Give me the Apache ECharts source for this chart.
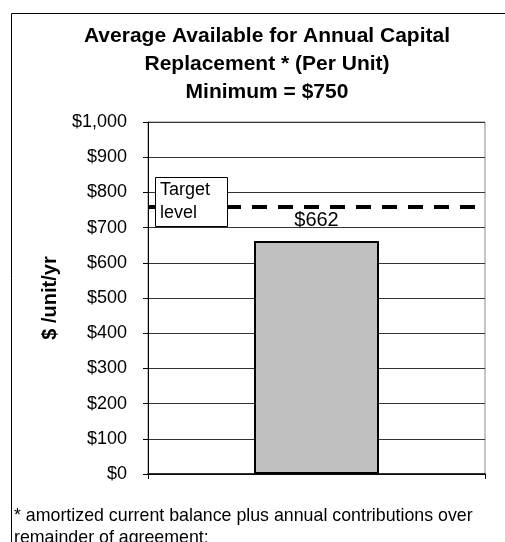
<!DOCTYPE html>
<html><head><meta charset="utf-8">
<script src="https://cdn.jsdelivr.net/npm/echarts@6/dist/echarts.min.js"></script>
<style>html,body{margin:0;padding:0;background:#fff}#c{width:505px;height:542px}</style>
</head><body><div id="c"></div>
<script>
var categories = [''];
var values = [662];
var targetLevel = 760;
var yTicks = [0, 1000, 100];
var FONT = '"Liberation Sans", Arial, sans-serif';
var chart = echarts.init(document.getElementById('c'));
chart.setOption({
  animation: false,
  backgroundColor: '#fff',
  textStyle: {fontFamily: FONT},
  title: {
    text: 'Average Available for Annual Capital\nReplacement * (Per Unit)\nMinimum = $750',
    left: 262, top: 17, textAlign: 'center',
    textStyle: {fontFamily: FONT, fontSize: 21, fontWeight: 'bold', color: '#000', lineHeight: 28}
  },
  grid: {left: 148, top: 122, width: 337, height: 352, show: true, borderColor: '#888', borderWidth: 1},
  xAxis: {
    type: 'category', data: categories,
    axisLine: {lineStyle: {color: '#000', width: 1.5}},
    axisTick: {show: true, alignWithLabel: false, length: 5, lineStyle: {color: '#000'}},
    axisLabel: {show: false}
  },
  yAxis: {
    type: 'value', min: yTicks[0], max: yTicks[1], interval: yTicks[2],
    name: '$ /unit/yr', nameLocation: 'middle', nameGap: 88, nameRotate: 90,
    nameTextStyle: {fontFamily: FONT, fontSize: 20, fontWeight: 'bold', color: '#000'},
    axisLine: {show: true, lineStyle: {color: '#000', width: 1}},
    axisTick: {show: true, length: 5, lineStyle: {color: '#000'}},
    axisLabel: {fontFamily: FONT, fontSize: 18, color: '#000', margin: 21,
      formatter: function (v) { return '$' + v.toLocaleString('en-US'); }},
    splitLine: {lineStyle: {color: '#333', width: 1}}
  },
  series: [{
    type: 'bar', data: values, barWidth: 125,
    itemStyle: {color: '#c0c0c0', borderColor: '#000', borderWidth: 2},
    label: {show: true, position: 'top', distance: 10, fontFamily: FONT, fontSize: 20, color: '#000',
      formatter: function (p) { return '$' + p.value; }},
    markLine: {
      silent: true, symbol: 'none',
      lineStyle: {color: '#000', type: [15, 11], width: 4},
      label: {show: false},
      data: [{yAxis: targetLevel}]
    }
  }],
  graphic: [
    {type: 'rect', shape: {x: 11.5, y: 13.5, width: 700, height: 700}, style: {fill: 'none', stroke: '#000', lineWidth: 1}, z: 0, silent: true},
    {type: 'rect', shape: {x: 155.5, y: 177.5, width: 72, height: 49}, style: {fill: '#fff', stroke: '#000', lineWidth: 1}, z: 100},
    {type: 'text', x: 160, y: 179, z: 101, style: {text: 'Target\nlevel', fontFamily: FONT, fontSize: 18, lineHeight: 23, fill: '#000'}},
    {type: 'text', x: 14, y: 505, z: 101, style: {text: '* amortized current balance plus annual contributions over\nremainder of agreement:', fontFamily: FONT, fontSize: 17.8, lineHeight: 22, fill: '#000'}}
  ]
});
</script></body></html>
